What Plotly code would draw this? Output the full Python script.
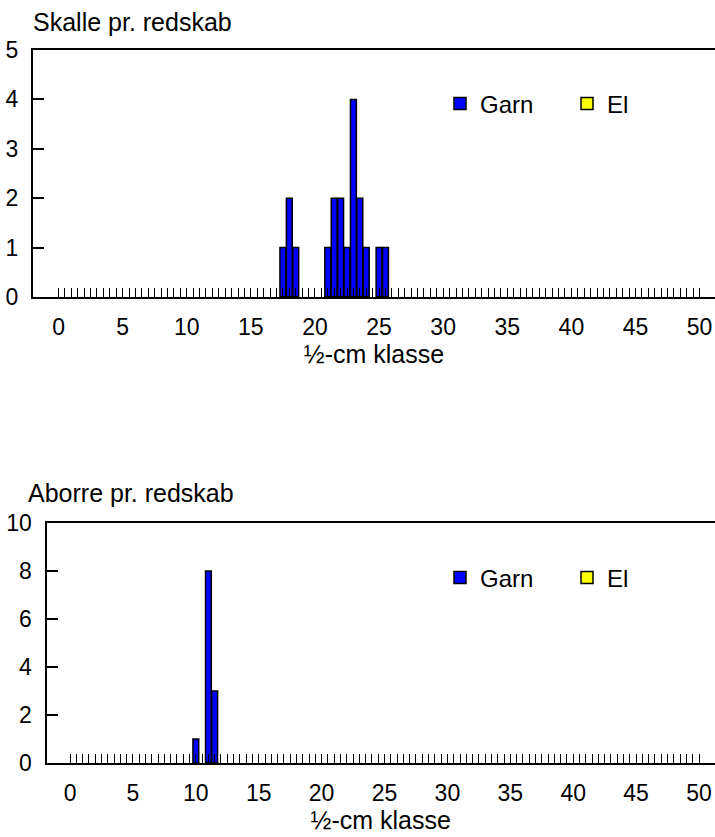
import plotly.graph_objects as go

# ---- data ----
skalle_classes = [17.5, 18, 18.5, 21, 21.5, 22, 22.5, 23, 23.5, 24, 25, 25.5]
skalle_garn = [1, 2, 1, 1, 2, 2, 1, 4, 2, 1, 1, 1]
skalle_el = [0] * len(skalle_classes)

aborre_classes = [10, 11, 11.5]
aborre_garn = [1, 8, 3]
aborre_el = [0] * len(aborre_classes)

class_ticks = [i / 2 for i in range(0, 101)]          # ½-cm classes 0 .. 50
tick_labels = [str(int(v)) if v % 5 == 0 else "" for v in class_ticks]

series_names = ["Garn", "El"]
series_colors = ["#0000FF", "#FFFF00"]

FONT = "Liberation Sans, Arial, sans-serif"
OFF = 0                      # body margin removed below via post_script
W, H = 715, 837

fig = go.Figure()

def add_panel(classes, garn, el, xa, ya, legend):
    for name, vals, col in zip(series_names, [garn, el], series_colors):
        fig.add_trace(go.Bar(
            x=classes, y=vals, name=name, xaxis=xa, yaxis=ya,
            width=0.46, marker=dict(color=col, line=dict(color="black", width=1.5)),
            legend=legend, showlegend=True))

add_panel(skalle_classes, skalle_garn, skalle_el, "x", "y", "legend")
add_panel(aborre_classes, aborre_garn, aborre_el, "x2", "y2", "legend2")

def px_x(p):
    return (p - OFF) / W

def px_y(p):
    return 1 - (p - OFF) / H

xcommon = dict(
    tickmode="array", tickvals=class_ticks, ticktext=tick_labels,
    ticks="inside", ticklen=9, tickwidth=1, tickcolor="black",
    showline=True, linecolor="black", linewidth=2, mirror=True,
    showgrid=False, zeroline=False, automargin=False,
    tickfont=dict(family=FONT, size=23, color="black"),
    ticklabelstandoff=8,
    title=dict(text="½-cm klasse", font=dict(family=FONT, size=25, color="black"), standoff=2),
)
ycommon = dict(
    ticks="inside", ticklen=11, tickwidth=1.5, tickcolor="black",
    showline=True, linecolor="black", linewidth=2, mirror=False,
    showgrid=False, zeroline=False, automargin=False,
    tickfont=dict(family=FONT, size=23, color="black"),
    ticklabelstandoff=8,
)

fig.update_layout(
    width=W, height=H,
    margin=dict(l=0, r=0, t=0, b=0),
    paper_bgcolor="white", plot_bgcolor="white",
    barmode="overlay",
    font=dict(family=FONT, size=23, color="black"),
    xaxis=dict(domain=[px_x(33), 1], range=[-1.99, 51.2], anchor="y", **xcommon),
    yaxis=dict(domain=[px_y(297), px_y(50)], range=[0, 5], tickvals=[0, 1, 2, 3, 4, 5],
               anchor="x", **ycommon),
    xaxis2=dict(domain=[px_x(46.5), 1], range=[-1.87, 51.27], anchor="y2", **xcommon),
    yaxis2=dict(domain=[px_y(763), px_y(523)], range=[0, 10], tickvals=[0, 2, 4, 6, 8, 10],
                anchor="x2", **ycommon),
    legend=dict(orientation="h", x=px_x(440), xanchor="left", y=px_y(104), yanchor="middle",
                entrywidth=82, font=dict(family=FONT, size=24), bgcolor="rgba(0,0,0,0)"),
    legend2=dict(orientation="h", x=px_x(440), xanchor="left", y=px_y(578), yanchor="middle",
                 entrywidth=82, font=dict(family=FONT, size=24), bgcolor="rgba(0,0,0,0)"),
    annotations=[
        dict(text="Skalle pr. redskab", xref="paper", yref="paper", x=px_x(31), y=px_y(22),
             xanchor="left", yanchor="middle", showarrow=False,
             font=dict(family=FONT, size=25, color="black")),
        dict(text="Aborre pr. redskab", xref="paper", yref="paper", x=px_x(26), y=px_y(493),
             xanchor="left", yanchor="middle", showarrow=False,
             font=dict(family=FONT, size=25, color="black")),
    ],
)

fig.write_html("out.html",
               config={"displayModeBar": False},
               post_script="document.body.style.margin='0';document.body.style.overflow='hidden';")
